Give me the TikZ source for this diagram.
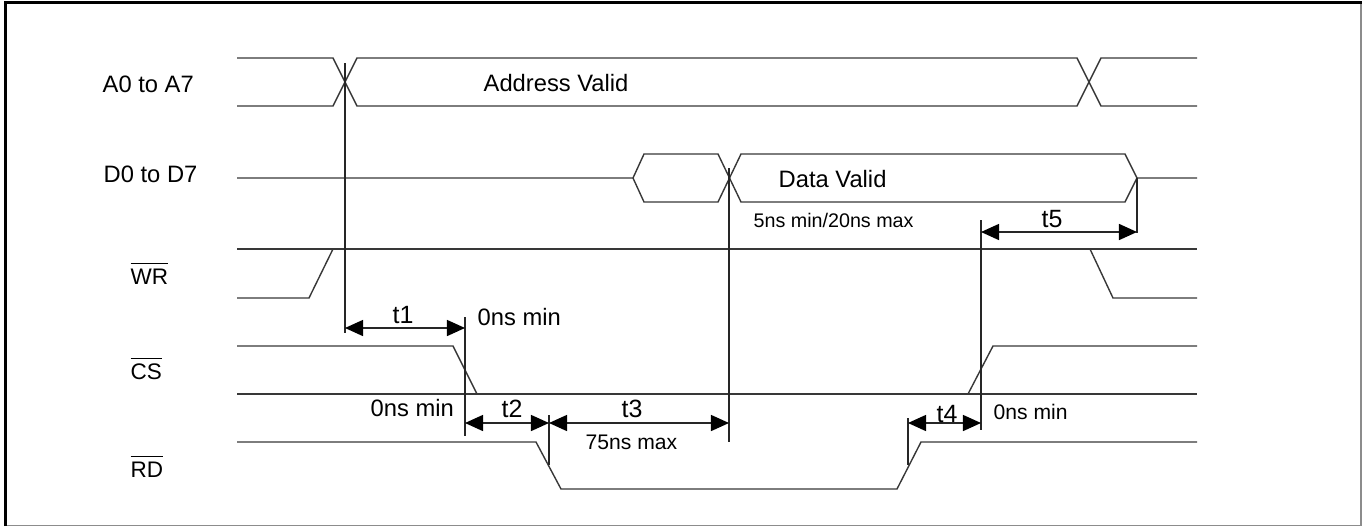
\documentclass[tikz,border=0pt]{standalone}
\usepackage{fontspec}
\setmainfont{Liberation Sans}
\usetikzlibrary{arrows.meta}
\begin{document}
\begin{tikzpicture}[x=0.01cm,y=-0.01cm,
  sig/.style={line width=0.4pt, draw=black!78, line join=miter},
  vline/.style={line width=0.4pt, draw=black!85},
  dim/.style={line width=0.4pt, draw=black!85,
    {Triangle[length=1.8mm,width=1.6mm,color=black]}-{Triangle[length=1.8mm,width=1.6mm,color=black]}},
  lab/.style={inner sep=0pt, font=\fontsize{6.75}{8}\selectfont},
  small/.style={inner sep=0pt, font=\fontsize{6.0}{7}\selectfont},
  tiny/.style={inner sep=0pt, font=\fontsize{5.6}{7}\selectfont},
  tlab/.style={inner sep=0pt, font=\fontsize{7.1}{8}\selectfont},
  sname/.style={inner sep=0pt, font=\fontsize{6.4}{8}\selectfont}]
\useasboundingbox (0,0) rectangle (1363,527);
% frame
\draw[black!45, line width=0.35pt] (6,525.5) -- (1361,525.5) -- (1361,3);
\draw[black, line width=0.8pt] (5.5,526) -- (5.5,2.5) -- (1361.5,2.5);

% signal names
\node[lab, anchor=base west] (nA) at (102,92) {A0 to A7};
\node[lab, anchor=base west] (nD) at (103,182) {D0 to D7};
\node[sname, anchor=base west] (nWR) at (130,284) {$\overline{\mbox{WR}}$};
\node[sname, anchor=base west] (nCS) at (130,379) {$\overline{\mbox{CS}}$};
\node[sname, anchor=base west] (nRD) at (130,477) {$\overline{\mbox{RD}}$};

% A0..A7 bus
\draw[sig] (237,58) -- (333,58) -- (357,106) -- (1077,106) -- (1101,58) -- (1197,58);
\draw[sig] (237,106) -- (333,106) -- (357,58) -- (1077,58) -- (1101,106) -- (1197,106);
\node[lab, anchor=base west] (av) at (483,91) {Address Valid};

% D0..D7 bus
\draw[sig] (237,178) -- (633,178) -- (644,154) -- (718,154) -- (741,202) -- (1125,202) -- (1137,178) -- (1197,178);
\draw[sig] (633,178) -- (644,202) -- (718,202) -- (741,154) -- (1125,154) -- (1137,178);
\node[lab, anchor=base west] (dv) at (778,187) {Data Valid};
\node[tiny, anchor=base west] (dvt) at (753,227) {5ns min/20ns max};

% WR
\draw[sig] (237,249) -- (1197,249);
\draw[sig] (237,298) -- (309,298) -- (333,249);
\draw[sig] (1090,249) -- (1113,298) -- (1197,298);

% CS
\draw[sig] (237,346) -- (453,346) -- (477,394);
\draw[sig] (237,394) -- (1197,394);
\draw[sig] (968,394) -- (993,346) -- (1197,346);

% RD
\draw[sig] (237,442) -- (536,442) -- (561,489) -- (897,489) -- (921,442) -- (1197,442);

% reference lines
\coordinate (v1t) at (345,63);   \coordinate (v1b) at (345,333);
\coordinate (v2t) at (465,317);  \coordinate (v2b) at (465,436);
\coordinate (v3t) at (549,415);  \coordinate (v3b) at (549,465);
\coordinate (v4t) at (729,168);  \coordinate (v4b) at (729,442);
\coordinate (v5t) at (981,220);  \coordinate (v5b) at (981,430);
\coordinate (v6t) at (908,418);  \coordinate (v6b) at (908,465);
\coordinate (v7t) at (1137,178); \coordinate (v7b) at (1137,233);
\foreach \a/\b in {v1t/v1b, v2t/v2b, v3t/v3b, v4t/v4b, v5t/v5b, v6t/v6b, v7t/v7b}
  \draw[vline] (\a) -- (\b);

% dimension arrows
\coordinate (t1a) at (345,328); \coordinate (t1b) at (465,328);
\coordinate (t2a) at (465,423); \coordinate (t2b) at (549,423);
\coordinate (t3a) at (549,423); \coordinate (t3b) at (729,423);
\coordinate (t4a) at (908,423); \coordinate (t4b) at (981,423);
\coordinate (t5a) at (981,232); \coordinate (t5b) at (1137,232);
\draw[dim] (t1a) -- (t1b);
\draw[dim] (t2a) -- (t2b);
\draw[dim] (t3a) -- (t3b);
\draw[dim] (t4a) -- (t4b);
\draw[dim] (t5a) -- (t5b);

\node[tlab, anchor=base] (lt1) at (403,323) {t1};
\node[tlab, anchor=base] (lt2) at (512,417) {t2};
\node[tlab, anchor=base] (lt3) at (632,417) {t3};
\node[tlab, anchor=base] (lt4) at (947,422) {t4};
\node[tlab, anchor=base] (lt5) at (1052,227) {t5};

\node[lab, anchor=base west] (m1) at (477,325) {0ns min};
\node[lab, anchor=base west] (m2) at (370,416) {0ns min};
\node[small, anchor=base west] (m3) at (585,449) {75ns max};
\node[small, anchor=base west] (m4) at (993,419) {0ns min};
\end{tikzpicture}
\end{document}
